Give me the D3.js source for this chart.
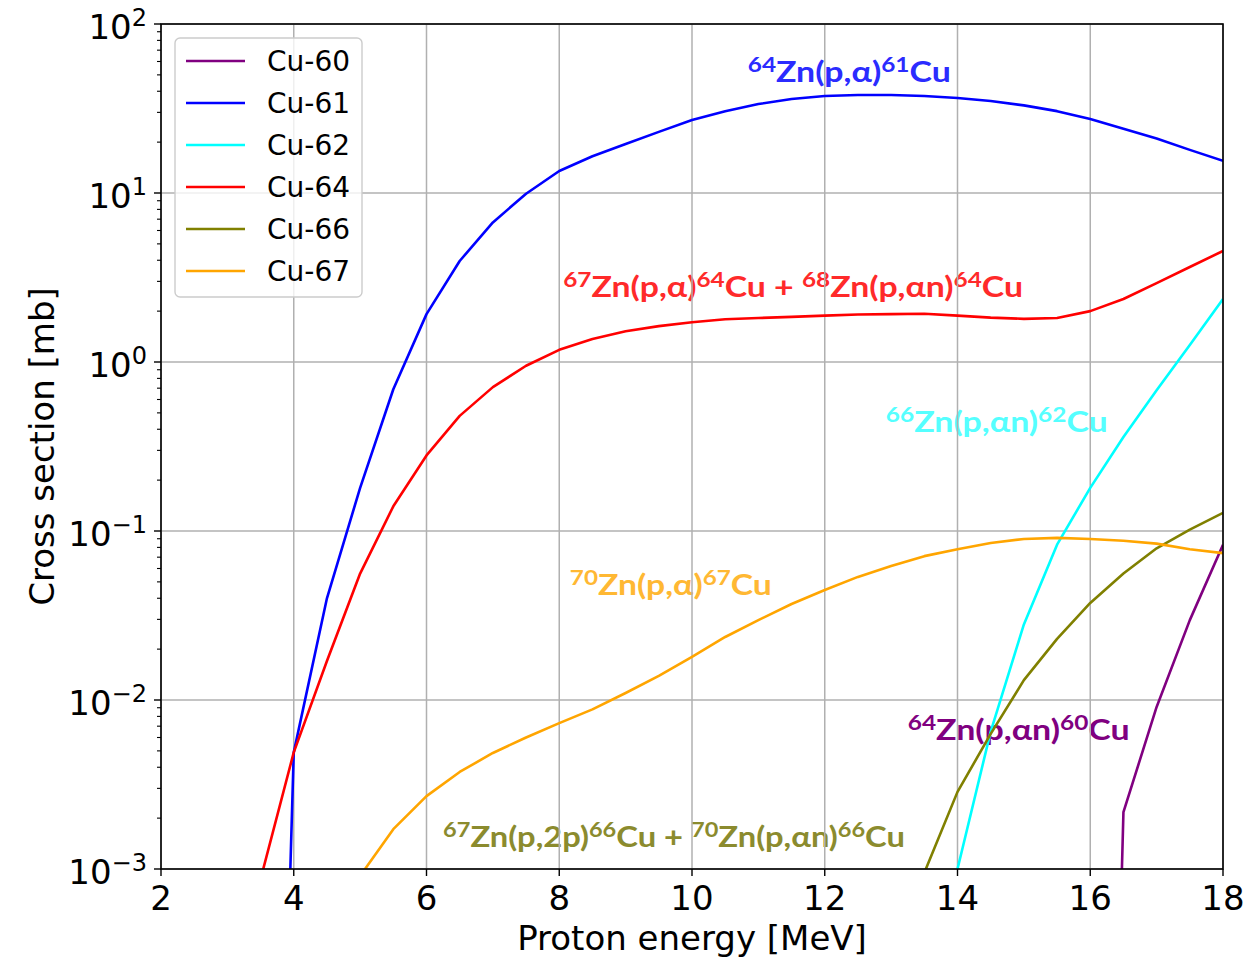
<!DOCTYPE html>
<html>
<head>
<meta charset="utf-8">
<title>Cu cross sections</title>
<script src="https://cdn.jsdelivr.net/npm/d3@7"></script>
<style>
  body { margin: 0; background: #fff; }
  svg { font-family: "DejaVu Sans", sans-serif; }
  .grid line { stroke: #b0b0b0; stroke-width: 1.5; }
  .note { font-family: Lato, "Open Sans", sans-serif; font-weight: bold; font-size: 29px; }
</style>
</head>
<body>
<svg width="1249" height="957"></svg>
<script>
// proton energy grid [MeV]
var energy = [3.5, 4, 4.5, 5, 5.5, 6, 6.5, 7, 7.5, 8, 8.5, 9, 9.5, 10, 10.5,
  11, 11.5, 12, 12.5, 13, 13.5, 14, 14.5, 15, 15.5, 16, 16.5, 17, 17.5, 18];

// cross sections [mb], null = no value
var cu60 = [null, null, null, null, null, null, null, null, null, null, null, null, null, null, null,
  null, null, null, null, null, null, null, null, null, null, 1e-10, 0.00217, 0.0091, 0.0297, 0.083];
var cu61 = [1e-9, 0.0049, 0.04, 0.18, 0.69, 1.92, 3.96, 6.7, 9.9, 13.5, 16.5, 19.5, 23, 27, 30.5,
  33.6, 36, 37.5, 38, 38, 37.5, 36.5, 35, 33, 30.5, 27.4, 24, 21, 18, 15.5];
var cu62 = [null, null, null, null, null, null, null, null, null, null, null, null, null, null, null,
  null, null, null, null, null, null, 0.001, 0.0065, 0.028, 0.083, 0.18, 0.36, 0.68, 1.26, 2.36];
var cu64 = [0.00087, 0.0049, 0.017, 0.056, 0.14, 0.28, 0.48, 0.71, 0.95, 1.18, 1.37, 1.52, 1.63, 1.72, 1.79,
  1.82, 1.85, 1.88, 1.91, 1.92, 1.93, 1.88, 1.83, 1.8, 1.82, 2.0, 2.36, 2.93, 3.65, 4.54];
var cu66 = [null, null, null, null, null, null, null, null, null, null, null, null, null, null, null,
  null, null, null, null, null, 0.00095, 0.00286, 0.0063, 0.0131, 0.023, 0.0375, 0.056, 0.079, 0.102, 0.128];
var cu67 = [null, null, null, 0.00091, 0.00172, 0.0027, 0.00375, 0.00486, 0.006, 0.0073, 0.0088, 0.011, 0.0139, 0.018, 0.0236,
  0.0297, 0.037, 0.0448, 0.0535, 0.062, 0.071, 0.078, 0.085, 0.0897, 0.091, 0.0897, 0.0875, 0.0842, 0.078, 0.074];

var seriesNames = ["Cu-60", "Cu-61", "Cu-62", "Cu-64", "Cu-66", "Cu-67"];
var seriesValues = [cu60, cu61, cu62, cu64, cu66, cu67];
var seriesColors = ["#800080", "#0000ff", "#00ffff", "#ff0000", "#808000", "#ffa500"];

var xTicks = [2, 4, 6, 8, 10, 12, 14, 16, 18];
var yExponents = [-3, -2, -1, 0, 1, 2];

// reaction labels: "^" marks a superscript run
var noteTexts = ["^64Zn(p,α)^61Cu", "^67Zn(p,α)^64Cu + ^68Zn(p,αn)^64Cu", "^66Zn(p,αn)^62Cu",
  "^70Zn(p,α)^67Cu", "^64Zn(p,αn)^60Cu", "^67Zn(p,2p)^66Cu + ^70Zn(p,αn)^66Cu"];
var noteEnergy = [10.84, 8.06, 12.92, 8.16, 13.25, 6.25];
var noteValue = [45.4, 2.43, 0.386, 0.0418, 0.00579, 0.00135];
var noteWidth = [203, 460, 222, 202, 222, 462];
var noteColors = ["#2b2bff", "#ff2a2a", "#55ffff", "#ffb833", "#800080", "#8b8b2e"];

var svg = d3.select("svg"),
  pLeft = 161, pRight = 1223, pTop = 24, pBottom = 869;

var x = d3.scaleLinear().domain([2, 18]).range([pLeft, pRight]);
var y = d3.scaleLog().domain([1e-3, 1e2]).range([pBottom, pTop]);

svg.append("defs").append("clipPath").attr("id", "plot")
  .append("rect").attr("x", pLeft).attr("y", pTop)
  .attr("width", pRight - pLeft).attr("height", pBottom - pTop);

// annotations (squeezed horizontally to the reference width)
var notes = svg.append("g");
noteTexts.forEach(function(t, i) {
  var g = notes.append("g");
  var txt = g.append("text")
    .attr("class", "note")
    .attr("fill", noteColors[i]);
  var parts = t.split(/(\^\d+)/).filter(function(p) { return p.length; });
  var raised = false;
  parts.forEach(function(p) {
    if (p[0] === "^") {
      txt.append("tspan").attr("font-size", "0.72em").attr("dy", raised ? null : "-0.47em").text(p.slice(1));
      raised = true;
    } else {
      txt.append("tspan").attr("dy", raised ? "0.34em" : null).text(p);
      raised = false;
    }
  });
  var len = txt.node().getComputedTextLength();
  g.attr("transform", "translate(" + x(noteEnergy[i]) + "," + y(noteValue[i]) + ") scale(" + (noteWidth[i] / len) + ",1)");
});

// grid
var grid = svg.append("g").attr("class", "grid");
grid.selectAll(".gx").data(xTicks).enter().append("line")
  .attr("x1", function(d) { return x(d); }).attr("x2", function(d) { return x(d); })
  .attr("y1", pTop).attr("y2", pBottom);
grid.selectAll(".gy").data(yExponents).enter().append("line")
  .attr("x1", pLeft).attr("x2", pRight)
  .attr("y1", function(d) { return y(Math.pow(10, d)); })
  .attr("y2", function(d) { return y(Math.pow(10, d)); });

// curves
var line = d3.line()
  .defined(function(d) { return d[1] != null; })
  .x(function(d) { return x(d[0]); })
  .y(function(d) { return y(d[1]); });

svg.append("g").attr("clip-path", "url(#plot)")
  .selectAll("path").data(seriesValues).enter().append("path")
  .attr("d", function(vals) { return line(energy.map(function(e, j) { return [e, vals[j]]; })); })
  .attr("fill", "none")
  .attr("stroke", function(d, i) { return seriesColors[i]; })
  .attr("stroke-width", 2.6)
  .attr("stroke-linejoin", "round");

// frame
svg.append("rect")
  .attr("x", pLeft).attr("y", pTop)
  .attr("width", pRight - pLeft).attr("height", pBottom - pTop)
  .attr("fill", "none").attr("stroke", "#000").attr("stroke-width", 1.6);

// x axis ticks
var xt = svg.append("g");
xt.selectAll("line").data(xTicks).enter().append("line")
  .attr("x1", function(d) { return x(d); }).attr("x2", function(d) { return x(d); })
  .attr("y1", pBottom).attr("y2", pBottom + 7)
  .attr("stroke", "#000").attr("stroke-width", 1.4);
xt.selectAll("text").data(xTicks).enter().append("text")
  .attr("x", function(d) { return x(d); })
  .attr("y", 910)
  .attr("text-anchor", "middle")
  .style("font-size", "34px")
  .text(function(d) { return d; });

// y axis ticks
var minor = [];
yExponents.slice(0, -1).forEach(function(k) {
  for (var m = 2; m < 10; m++) minor.push(m * Math.pow(10, k));
});
var yt = svg.append("g");
yt.selectAll(".minor").data(minor).enter().append("line")
  .attr("x1", pLeft - 4).attr("x2", pLeft)
  .attr("y1", function(d) { return y(d); }).attr("y2", function(d) { return y(d); })
  .attr("stroke", "#000").attr("stroke-width", 1.1);
yt.selectAll(".major").data(yExponents).enter().append("line")
  .attr("x1", pLeft - 7).attr("x2", pLeft)
  .attr("y1", function(d) { return y(Math.pow(10, d)); })
  .attr("y2", function(d) { return y(Math.pow(10, d)); })
  .attr("stroke", "#000").attr("stroke-width", 1.4);
var ylab = yt.selectAll("text").data(yExponents).enter().append("text")
  .attr("x", 147)
  .attr("y", function(d) { return y(Math.pow(10, d)) + 15; })
  .attr("text-anchor", "end")
  .style("font-size", "34px");
ylab.append("tspan").text("10");
ylab.append("tspan").attr("dy", -13).style("font-size", "24px")
  .text(function(d) { return d < 0 ? "\u2212" + (-d) : d; });

// axis labels
svg.append("text")
  .attr("x", x(10)).attr("y", 950)
  .attr("text-anchor", "middle")
  .style("font-size", "34px")
  .text("Proton energy [MeV]");
svg.append("text")
  .attr("transform", "translate(54," + ((pTop + pBottom) / 2) + ") rotate(-90)")
  .attr("text-anchor", "middle")
  .style("font-size", "34px")
  .text("Cross section [mb]");

// legend
var legend = svg.append("g");
legend.append("rect")
  .attr("x", 175).attr("y", 38).attr("width", 187).attr("height", 259)
  .attr("rx", 5).attr("fill", "#fff").attr("fill-opacity", 0.8)
  .attr("stroke", "#cccccc").attr("stroke-width", 1.4);
var item = legend.selectAll(".item").data(seriesNames).enter().append("g")
  .attr("transform", function(d, i) { return "translate(0," + (61 + i * 42) + ")"; });
item.append("line")
  .attr("x1", 186).attr("x2", 245)
  .attr("stroke", function(d, i) { return seriesColors[i]; })
  .attr("stroke-width", 2.6);
item.append("text")
  .attr("x", 267).attr("y", 10)
  .style("font-size", "28px")
  .text(function(d) { return d; });
</script>
</body>
</html>
